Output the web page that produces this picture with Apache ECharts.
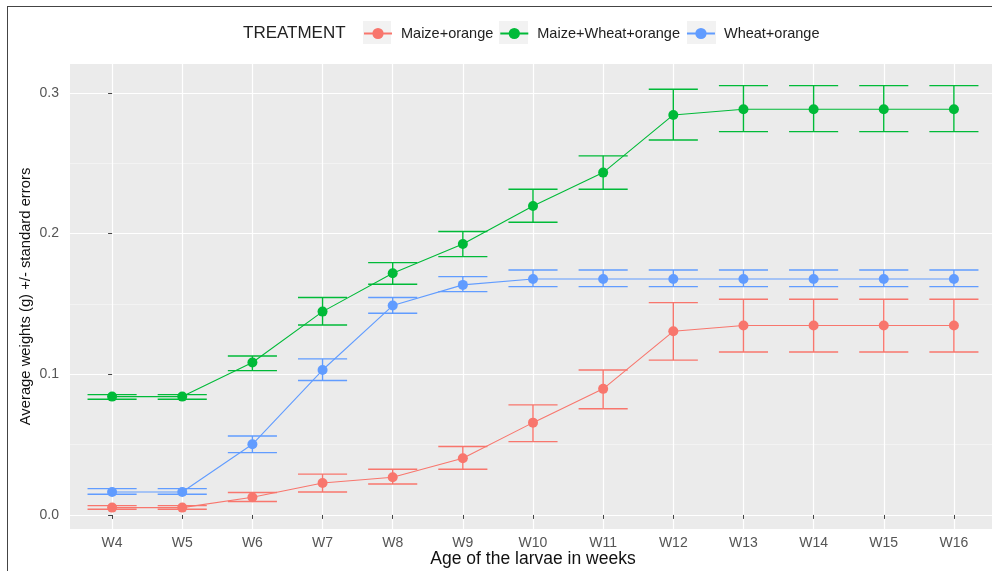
<!DOCTYPE html>
<html><head><meta charset="utf-8">
<script src="https://cdn.jsdelivr.net/npm/echarts@6/dist/echarts.min.js"></script>
<style>
html,body{margin:0;padding:0;background:#fff;overflow:hidden}
#c{width:992px;height:571px}
#frame{position:absolute;left:7px;top:6px;width:990px;height:570px;border-top:1.5px solid #444;border-left:1.5px solid #444;pointer-events:none}
</style>
</head><body><div id="c"></div><div id="frame"></div>
<script>
// ---- data ----
const weeks = ['W4','W5','W6','W7','W8','W9','W10','W11','W12','W13','W14','W15','W16'];
const treatments = ['Maize+orange','Maize+Wheat+orange','Wheat+orange'];

const maizeMean  = [0.0052,0.0052,0.0126,0.0227,0.0268,0.0403,0.0656,0.0896,0.1305,0.1346,0.1346,0.1346,0.1346];
const maizeUpper = [0.0066,0.0066,0.0159,0.0290,0.0325,0.0486,0.0782,0.1030,0.1509,0.1533,0.1533,0.1533,0.1533];
const maizeLower = [0.0040,0.0040,0.0095,0.0163,0.0220,0.0325,0.0521,0.0755,0.1100,0.1158,0.1158,0.1158,0.1158];

const mwMean  = [0.0841,0.0841,0.1083,0.1445,0.1718,0.1926,0.2196,0.2433,0.2843,0.2883,0.2883,0.2883,0.2883];
const mwUpper = [0.0855,0.0855,0.1130,0.1545,0.1793,0.2014,0.2315,0.2552,0.3026,0.3051,0.3051,0.3051,0.3051];
const mwLower = [0.0822,0.0822,0.1026,0.1350,0.1640,0.1836,0.2080,0.2315,0.2665,0.2724,0.2724,0.2724,0.2724];

const wheatMean  = [0.0163,0.0163,0.0502,0.1030,0.1488,0.1635,0.1677,0.1677,0.1677,0.1677,0.1677,0.1677,0.1677];
const wheatUpper = [0.0187,0.0187,0.0561,0.1109,0.1545,0.1694,0.1741,0.1741,0.1741,0.1741,0.1741,0.1741,0.1741];
const wheatLower = [0.0147,0.0147,0.0443,0.0955,0.1433,0.1587,0.1623,0.1623,0.1623,0.1623,0.1623,0.1623,0.1623];

const yTicks = [0, 0.1, 0.2, 0.3];
const yMinorTicks = [0.05, 0.15, 0.25];
const colors = ['#F8766D', '#00BA38', '#619CFF'];

// ---- build ----
const means = [maizeMean, mwMean, wheatMean];
const uppers = [maizeUpper, mwUpper, wheatUpper];
const lowers = [maizeLower, mwLower, wheatLower];
const xIdx = weeks.map((w, i) => i);

function errRender(color) {
  return function (params, api) {
    const x = api.value(0), lo = api.value(1), hi = api.value(2);
    const pLo = api.coord([x, lo]), pHi = api.coord([x, hi]);
    const hw = api.size([0.7, 0])[0] / 2;
    const style = { stroke: color, lineWidth: 1.4, fill: null };
    return { type: 'group', children: [
      { type: 'line', shape: { x1: pLo[0], y1: pLo[1], x2: pHi[0], y2: pHi[1] }, style: style },
      { type: 'line', shape: { x1: pLo[0] - hw, y1: pLo[1], x2: pLo[0] + hw, y2: pLo[1] }, style: style },
      { type: 'line', shape: { x1: pHi[0] - hw, y1: pHi[1], x2: pHi[0] + hw, y2: pHi[1] }, style: style }
    ]};
  };
}

const series = [];
treatments.forEach((t, k) => {
  series.push({
    type: 'custom', name: 'err-' + t, renderItem: errRender(colors[k]),
    encode: { x: 0, y: [1, 2] },
    data: xIdx.map(i => [i, lowers[k][i], uppers[k][i]]),
    silent: true, z: 2
  });
});
treatments.forEach((t, k) => {
  series.push({
    type: 'line', name: t,
    data: xIdx.map(i => [i, means[k][i]]),
    symbol: 'circle', symbolSize: 10, showSymbol: true,
    lineStyle: { color: colors[k], width: 1.1 },
    itemStyle: { color: colors[k] },
    z: 3
  });
});

const chart = echarts.init(document.getElementById('c'), null, { renderer: 'canvas' });
chart.setOption({
  animation: false,
  backgroundColor: '#ffffff',
  title: {
    text: 'TREATMENT', left: 243, top: 25, padding: 0,
    textStyle: { fontFamily: 'Liberation Sans', fontSize: 17, fontWeight: 'normal', color: '#222' }
  },
  graphic: [
    { type: 'rect', left: 363, top: 21, shape: { width: 28, height: 23 }, style: { fill: '#F2F2F2' }, z: 0, silent: true },
    { type: 'rect', left: 499, top: 21, shape: { width: 29, height: 23 }, style: { fill: '#F2F2F2' }, z: 0, silent: true },
    { type: 'rect', left: 687, top: 21, shape: { width: 29, height: 23 }, style: { fill: '#F2F2F2' }, z: 0, silent: true }
  ],
  legend: {
    data: treatments, left: 363, top: 26, padding: 0, z: 5,
    itemWidth: 28, itemHeight: 14, itemGap: 6,
    textStyle: { fontFamily: 'Liberation Sans', fontSize: 14.5, color: '#222', padding: [0, 0, 0, 4] }
  },
  grid: {
    left: 70, right: -4, top: 64, bottom: 42,
    outerBoundsMode: 'none',
    show: true, backgroundColor: '#EBEBEB', borderWidth: 0
  },
  xAxis: {
    type: 'value', min: -0.6, max: 12.6,
    name: 'Age of the larvae in weeks', nameLocation: 'middle', nameGap: 21, nameMoveOverlap: false,
    nameTextStyle: { fontFamily: 'Liberation Sans', fontSize: 17.5, color: '#111' },
    axisLine: { show: false },
    axisTick: { show: true, length: 4, lineStyle: { color: '#444' }, customValues: xIdx },
    axisLabel: { customValues: xIdx, formatter: v => weeks[Math.round(v)], margin: 7,
      fontFamily: 'Liberation Sans', fontSize: 14, color: '#555' },
    splitLine: { show: true, lineStyle: { color: '#ffffff', width: 1.2 } }
  },
  yAxis: [{
    type: 'value', min: -0.01, max: 0.3205,
    name: 'Average weights (g) +/- standard errors', nameLocation: 'middle', nameGap: 37, nameMoveOverlap: false,
    nameTextStyle: { fontFamily: 'Liberation Sans', fontSize: 14.8, color: '#111' },
    axisLine: { show: false },
    axisTick: { show: true, length: 4, lineStyle: { color: '#444' }, customValues: yTicks },
    axisLabel: { customValues: yTicks, formatter: v => v.toFixed(1), margin: 11,
      fontFamily: 'Liberation Sans', fontSize: 14, color: '#555' },
    splitLine: { show: true, lineStyle: { color: '#ffffff', width: 1.2 } }
  }, {
    type: 'value', min: -0.01, max: 0.3205, position: 'left',
    axisLine: { show: false },
    axisTick: { show: false, customValues: yMinorTicks },
    axisLabel: { show: false, customValues: yMinorTicks },
    splitLine: { show: true, lineStyle: { color: '#F6F6F6', width: 0.7 } }
  }],
  series: series
});
</script>
</body></html>
